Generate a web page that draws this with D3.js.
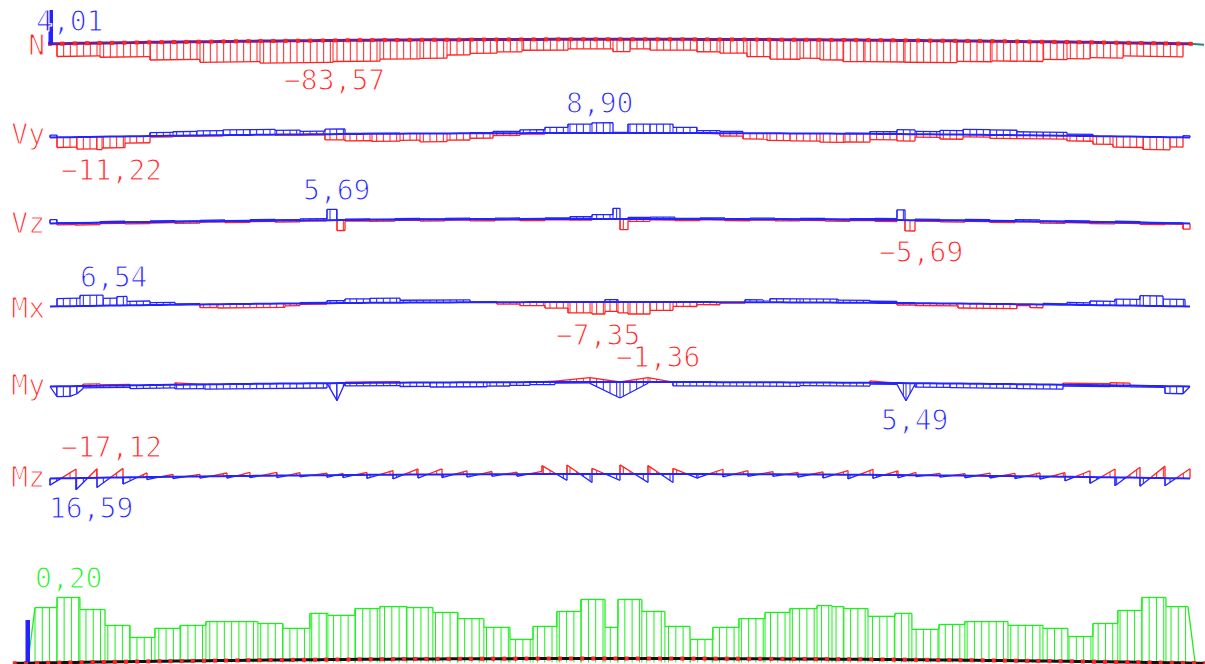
<!DOCTYPE html>
<html>
<head>
<meta charset="utf-8">
<script src="https://cdn.jsdelivr.net/npm/d3@7"></script>
<style>
  body { margin: 0; background: #fff; }
  svg { display: block; }
  text { font-family: "DejaVu Sans Mono", monospace; font-size: 28px; stroke: #fff; stroke-width: 1.1px; paint-order: fill; }
</style>
</head>
<body>
<svg width="1205" height="664"></svg>
<script>
// beam length (m) and the diagrams
const beamLength = 57;

// N : normal force (steps)
const nStations = [0.35, 2.5, 5, 7.5, 10.5, 14.15, 16.5, 18.5, 19.85, 21, 22.35, 23.6, 25.9, 28.15, 29, 30, 32.35, 33.5, 34.85, 36, 37.5, 38.5, 39.65, 40.75, 42.75, 45.35, 47.1, 49.65, 50.85, 52, 53.65, 56.65];
const nMin = [-48.6, -54, -67, -78, -83.57, -80, -72, -70, -58, -52, -47, -41, -36, -47, -36, -41, -47, -52, -65, -74, -70, -76, -82, -82, -83, -78, -75, -67, -63, -58, -50];
const nMarker = 4.01;

// Vy : shear (steps)
const vyStations = [0, 0.35, 1.35, 2.35, 2.6, 3.75, 5, 6.15, 7.35, 8.65, 10, 11.25, 12.5, 13.75, 14.75, 16.1, 17.5, 18.5, 19.85, 21, 22.15, 23.5, 24.75, 25.9, 27.1, 28.15, 28.9, 30, 31.15, 32.35, 33.5, 34.65, 35.85, 37, 38.5, 39.75, 41, 42.35, 43.25, 44.5, 45.65, 47, 48.35, 49.65, 50.85, 52.15, 53.15, 54.65, 56, 56.65, 57];
const vyMax = [2, 0, 0, 0, 0, 0, 2.9, 3.5, 4, 4.6, 4.6, 3.8, 2.6, 4.4, 0.5, 0.5, 0, 0, 0, 0.5, 1.5, 2.9, 5, 7.8, 8.9, 0.5, 7.8, 7.8, 5, 2.2, 1.5, 0, 0, 0, 0, 0.5, 2, 3.8, 2.5, 3.5, 4.5, 4.3, 3, 3, 1.5, 0, 0, 0, 0, 1.5];
const vyMin = [0, -8.8, -10.5, -11.22, -9.8, -5.8, -1, -0.5, -0.5, 0, 0, -0.5, -0.5, -5, -6, -6.5, -5.8, -7.2, -5.8, -4.3, -2, -0.9, 0, 0, 0, 0, 0, 0, 0, -0.3, -2.5, -5, -6.2, -6.5, -7.5, -7.2, -5, -6, -2.5, -4, -2, -3, -3, -3, -4.5, -7, -9.3, -11, -8.5, 0];

// Vz : shear (steps)
const vzStations = [0, 0.35, 1.25, 2.5, 3.75, 5, 6.25, 7.5, 8.75, 10, 11.25, 12.5, 13.85, 14.35, 14.75, 16, 17.25, 18.5, 19.75, 21, 22.25, 23.5, 24.75, 26, 27.1, 28.15, 28.5, 28.9, 30, 31.25, 32.5, 33.75, 35, 36.25, 37.5, 38.75, 40, 41.25, 42.35, 42.75, 43.25, 44.5, 45.75, 47, 48.25, 49.5, 50.75, 52, 53.25, 54.5, 55.75, 56.65, 57];
const vzMax = [2, 0.3, 0.2, 0.6, 0.2, 0.6, 0.3, 0.6, 0.3, 0.6, 0.4, 0.8, 5.69, 0, 0.5, 0.3, 0.6, 0.3, 0.6, 0.3, 0.6, 0.3, 0.6, 1.2, 2.3, 5.6, 0, 0.8, 1.0, 0.3, 0.6, 0.3, 0.6, 0.3, 0.6, 0.3, 0.6, 0.8, 5.4, 0, 0.6, 0.3, 0.6, 0.3, 0.8, 0.3, 0.6, 0.3, 0.6, 0.3, 0.2, 0];
const vzMin = [0, -0.8, -1.0, -0.5, -0.8, -0.5, -0.9, -0.4, -0.8, -0.4, -0.8, -0.3, 0, -5.5, -0.6, -0.8, -0.4, -0.8, -0.4, -0.8, -0.4, -0.8, -0.4, -0.6, 0, 0, -5.6, -1.2, -0.5, -0.8, -0.4, -0.8, -0.4, -0.8, -0.5, -0.8, -0.4, -0.8, 0, -5.69, -0.5, -0.8, -0.4, -0.8, -0.4, -0.9, -0.5, -0.8, -0.4, -0.8, -0.5, -3];

// Mx : torsion (steps)
const mxStations = [0, 0.35, 1.5, 2.65, 3.35, 3.85, 5, 6.25, 7.5, 8.4, 11.75, 12.5, 13.85, 14.75, 16, 17.5, 21, 22.35, 23.5, 24.75, 25.9, 27.1, 27.75, 28.4, 28.9, 30, 31.15, 32.35, 33.5, 34.75, 36, 37.5, 39.4, 41, 42.35, 43.25, 45.4, 48.35, 49, 49.65, 50.85, 52, 53.25, 54.5, 55.65, 56.75, 57];
const mxMax = [0, 4.8, 6.54, 4.5, 5.5, 2.5, 1.5, 0.5, 0, 0, 0, 0.5, 1.5, 2.5, 2.8, 1.5, 0.3, 0, 0, 0, 0, 0, 1.5, 0, 0, 0, 0, 0, 0, 1.5, 2.2, 2.2, 1.5, 1, 0.3, 0, 0, 0, 0, 0.6, 1.4, 2.5, 3.9, 6.2, 4.3, 0];
const mxMin = [0, 0, 0, 0, 0, 0, 0, 0, -2, -2.3, -1.4, -0.5, 0, 0, 0, 0, 0, -1.2, -2.2, -3.7, -6.7, -7.35, -5.8, -6.7, -7.35, -5.1, -2.7, -1.6, -0.6, 0, 0, 0, 0, 0, -1.2, -1.4, -2.7, -0.8, -2, 0, 0, 0, 0, 0, 0, 0];

// My : bending (linear segments, start / end)
const myStations = [0, 0.35, 1, 1.35, 1.65, 2.5, 4, 6.25, 7.75, 13.85, 14.35, 14.75, 17.5, 19, 21.85, 23, 24, 25.25, 27, 28.5, 29.9, 31.15, 37.5, 41, 42.35, 42.8, 43.25, 45, 48.35, 50.65, 53, 54, 55.75, 56.65, 57];
const myMaxStart = [0, 3.2, 3.2, 2.4, 0.6, 0.6, 1.0, 1.3, 1.5, 0, 5.49, 0.9, 1.2, 1.4, 1.2, 1.0, 0.8, 0.3, 0.4, 5.0, 0.1, 1.2, 1.0, 0.4, 0.4, 5.49, 1.2, 1.3, 1.4, 0.4, 0.3, 0.4, 2.3, 2.3];
const myMaxEnd = [3.2, 3.2, 2.4, 0.8, 0.6, 0.6, 1.0, 1.3, 1.5, 5.49, 0, 0.9, 1.2, 1.4, 1.2, 1.0, 0.8, 0.3, 5.0, 0.4, 0.1, 1.2, 1.0, 0.4, 5.49, 0.4, 1.2, 1.3, 1.4, 0.4, 0.3, 0.4, 2.3, 0];
const myMinStart = [0, 0, 0, 0, -0.6, -0.3, 0, -0.6, 0, 0, 0, -0.3, 0, 0, 0, 0, 0, -0.3, -1.36, 0, -1.36, 0, 0, -0.6, 0, 0, 0, 0, 0, -0.5, -0.8, 0, 0, 0];
const myMinEnd = [0, 0, 0, 0, -0.6, -0.3, 0, 0, 0, 0, 0, -0.3, 0, 0, 0, 0, -0.3, -1.36, 0, -1.36, 0, 0, 0, 0, 0, 0, 0, 0, 0, -0.5, -0.8, 0, 0, 0];

// Mz : bending (linear per element, start / end)
const mzStations = [0, 1.3, 2.35, 3.65, 4.85, 6.15, 7.5, 8.85, 10, 11.35, 12.5, 13.85, 14.65, 15.85, 17.15, 18.4, 19.6, 20.85, 22.1, 23.35, 24.6, 25.85, 27.1, 28.5, 29.9, 31.15, 32.4, 33.65, 34.9, 36.15, 37.4, 38.65, 39.9, 41.15, 42.4, 43.3, 44.5, 45.75, 47, 48.25, 49.5, 50.75, 52, 53.25, 54.5, 55.75, 57];
const mzStart = [9.5, 16.59, 14, 9.5, 3.5, 2.5, 2.5, 3, 2.5, 3, 2, 3, 3.5, 5, 6, 5, 4.5, 4, 3, 3, -12, -13, -8, -13, -12, -8, 5, 4, 3, 3, 4, 5, 6, 5, 4, 2, 2.5, 3, 3, 3.5, 4, 6, 9, 12, 12, 11];
const mzEnd = [-12.9, -12.9, -12.9, -6, -3.5, -3, -4.5, -5, -4.5, -4, -3, -2.5, -3.5, -6, -8, -8, -5, -4, -3, -4, 9, 12, 9, 12, 12, 6, -7, -5, -4, -3, -4, -6, -8, -6, -4, -3, -3, -4, -4, -5, -6, -9, -12, -15, -17.12, -14];

// utilisation (green, steps)
const utilStations = [0, 1.09, 2.22, 3.46, 4.70, 5.93, 7.17, 8.45, 11.02, 12.26, 13.59, 14.48, 15.82, 17.05, 18.39, 19.67, 20.91, 22.19, 23.48, 24.62, 25.80, 26.99, 28.18, 28.82, 30.00, 31.14, 32.38, 33.51, 34.80, 36.09, 37.32, 38.66, 39.40, 39.99, 41.18, 42.51, 43.35, 44.69, 45.97, 48.10, 49.83, 51.06, 52.30, 53.53, 54.72, 55.91, 57];
const utilVals = [0.169, 0.200, 0.163, 0.114, 0.077, 0.105, 0.114, 0.126, 0.120, 0.105, 0.151, 0.145, 0.166, 0.172, 0.169, 0.154, 0.135, 0.108, 0.071, 0.111, 0.157, 0.194, 0.108, 0.194, 0.157, 0.111, 0.071, 0.108, 0.135, 0.154, 0.166, 0.175, 0.172, 0.166, 0.142, 0.151, 0.102, 0.117, 0.126, 0.114, 0.105, 0.080, 0.120, 0.160, 0.200, 0.172];

const RED = '#ff2222', BLUE = '#2323ff', GREEN = '#1cf01c', PURPLE = '#7d1a86';

const svg = d3.select('svg');
const fmt = d3.formatLocale({ decimal: ',', thousands: '.', grouping: [3], currency: ['', ''], minus: '\u2212' }).format('.2f');

const x = d3.scaleLinear().domain([0, beamLength]).range([50, 1190]);
const xg = d3.scaleLinear().domain([0, beamLength]).range([35, 1188]);

// the beam is a shallow arch: ends sit a few pixels lower than mid-span
const arch = yc => m => yc + 4.5 * Math.pow((m - beamLength / 2) / (beamLength / 2), 2);
const bySign = v => v < 0 ? RED : BLUE;

// build outline points from segments
const segPoints = (st, a, b) => {
  const pts = [[st[0], 0]];
  a.forEach((v, i) => pts.push([st[i], v], [st[i + 1], b[i]]));
  pts.push([st[st.length - 1], 0]);
  return pts;
};

// outline, split where it crosses the axis so each side keeps its colour
const drawCurve = (g, pts, xs, base, vy, colorOf) => {
  for (let k = 0; k < pts.length - 1; k++) {
    const [m0, v0] = pts[k], [m1, v1] = pts[k + 1];
    let pieces = [[m0, v0, m1, v1]];
    if (v0 * v1 < 0) {
      const mc = m0 + (m1 - m0) * v0 / (v0 - v1);
      pieces = [[m0, v0, mc, 0], [mc, 0, m1, v1]];
    }
    pieces.forEach(([a, va, b, vb]) => {
      const vm = (va + vb) / 2;
      if (vm === 0) return;
      g.append('line')
        .attr('x1', xs(a)).attr('y1', base(a) + vy(va))
        .attr('x2', xs(b)).attr('y2', base(b) + vy(vb))
        .attr('stroke', colorOf(vm)).attr('stroke-width', 1.3);
    });
  }
};

// vertical hatching inside the diagram
const drawHatch = (g, st, a, b, xs, base, vy, step, colorOf) => {
  const ms = d3.range(st[0], st[st.length - 1], step).concat(st.slice(1, -1));
  ms.forEach(m => {
    const i = Math.max(0, Math.min(d3.bisectRight(st, m) - 1, a.length - 1));
    const t = (m - st[i]) / (st[i + 1] - st[i]);
    const v = a[i] + (b[i] - a[i]) * t;
    if (Math.abs(vy(v)) < 1.2) return;
    g.append('line')
      .attr('x1', xs(m)).attr('y1', base(m))
      .attr('x2', xs(m)).attr('y2', base(m) + vy(v))
      .attr('stroke', colorOf(v)).attr('stroke-width', 1);
  });
};

const diagram = (g, st, a, b, xs, base, vy, colorOf) => {
  drawHatch(g, st, a, b, xs, base, vy, 1 / 3, colorOf);
  drawCurve(g, segPoints(st, a, b), xs, base, vy, colorOf);
};

const baseLine = (g, base, color, w, from, to) => {
  const ms = d3.range(from, to + 0.01, 0.5);
  g.append('path')
    .attr('d', d3.line().x(m => x(m)).y(m => base(m))(ms))
    .attr('fill', 'none').attr('stroke', color).attr('stroke-width', w);
};

const label = (txt, px, py, color, anchor) => {
  svg.append('text').attr('x', px).attr('y', py).attr('fill', color)
    .attr('text-anchor', anchor || 'start').text(txt);
};

// ---- N
const gN = svg.append('g');
const baseN = arch(39.3);
const vyN = d3.scaleLinear().domain([0, -83.57]).range([0, 22]);
diagram(gN, nStations, nMin, nMin, x, baseN, vyN, () => RED);
baseLine(gN, baseN, PURPLE, 3, 0, beamLength);
gN.append('line').attr('x1', x(beamLength)).attr('y1', baseN(beamLength))
  .attr('x2', 1204).attr('y2', baseN(beamLength) + 1).attr('stroke', '#1b8a8a').attr('stroke-width', 2);
gN.selectAll('rect.node').data(d3.range(0, beamLength + 0.6, 0.62)).enter().append('rect')
  .attr('x', m => x(m) - 2).attr('y', m => baseN(m) - 2).attr('width', 4).attr('height', 4).attr('fill', RED);
gN.append('rect').attr('x', x(0) - 1.5).attr('y', 10).attr('width', 4.5).attr('height', baseN(0) - 9).attr('fill', BLUE);
label('N', 45, 55, RED, 'end');
label(fmt(nMarker), 36, 31, BLUE);
label(fmt(d3.min(nMin)), 284, 90, RED);

// ---- Vy
const gVy = svg.append('g');
const baseVy = arch(133);
const vyVy = d3.scaleLinear().domain([0, 1]).range([0, -1.15]);
diagram(gVy, vyStations, vyMin, vyMin, x, baseVy, vyVy, bySign);
diagram(gVy, vyStations, vyMax, vyMax, x, baseVy, vyVy, bySign);
baseLine(gVy, baseVy, BLUE, 2, 0, beamLength);
label('Vy', 45, 144, RED, 'end');
label(fmt(d3.min(vyMin)), 61, 180, RED);
label(fmt(d3.max(vyMax)), 566, 113, BLUE);

// ---- Vz
const gVz = svg.append('g');
const baseVz = arch(219);
const vyVz = d3.scaleLinear().domain([0, 1]).range([0, -1.9]);
diagram(gVz, vzStations, vzMin, vzMin, x, baseVz, vyVz, bySign);
diagram(gVz, vzStations, vzMax, vzMax, x, baseVz, vyVz, bySign);
baseLine(gVz, baseVz, BLUE, 2, 0, beamLength);
label('Vz', 45, 233, RED, 'end');
label(fmt(d3.max(vzMax)), 303, 200, BLUE);
label(fmt(d3.min(vzMin)), 879, 262, RED);

// ---- Mx
const gMx = svg.append('g');
const baseMx = arch(302);
const vyMx = d3.scaleLinear().domain([0, 1]).range([0, -1.63]);
diagram(gMx, mxStations, mxMin, mxMin, x, baseMx, vyMx, bySign);
diagram(gMx, mxStations, mxMax, mxMax, x, baseMx, vyMx, bySign);
baseLine(gMx, baseMx, BLUE, 2, 0, beamLength);
label('Mx', 45, 318, RED, 'end');
label(fmt(d3.max(mxMax)), 80, 287, BLUE);
label(fmt(d3.min(mxMin)), 556, 345, RED);

// ---- My (positive drawn downward)
const gMy = svg.append('g');
const baseMy = arch(382);
const vyMy = d3.scaleLinear().domain([0, 1]).range([0, 3.2]);
diagram(gMy, myStations, myMinStart, myMinEnd, x, baseMy, vyMy, bySign);
diagram(gMy, myStations, myMaxStart, myMaxEnd, x, baseMy, vyMy, bySign);
baseLine(gMy, baseMy, BLUE, 2, 0, beamLength);
label('My', 45, 395, RED, 'end');
label(fmt(d3.min(myMinStart)), 616, 367, RED);
label(fmt(d3.max(myMaxEnd)), 881, 430, BLUE);

// ---- Mz (positive drawn downward)
const gMz = svg.append('g');
const baseMz = arch(474);
const vyMz = d3.scaleLinear().domain([0, 1]).range([0, 0.7]);
diagram(gMz, mzStations, mzStart, mzEnd, x, baseMz, vyMz, bySign);
baseLine(gMz, baseMz, BLUE, 2, 0, beamLength);
label('Mz', 45, 487, RED, 'end');
label(fmt(d3.min(mzEnd)), 61, 457, RED);
label(fmt(d3.max(mzStart)), 49, 518, BLUE);

// ---- utilisation (green) with structure line below
const gU = svg.append('g');
const baseU = () => 662.5;
const vyU = d3.scaleLinear().domain([0, 0.2]).range([0, -65]);
drawHatch(gU, utilStations, utilVals, utilVals, xg, baseU, vyU, 0.36, () => GREEN);
const uPts = segPoints(utilStations, utilVals, utilVals);
uPts[0] = [-0.35, 0];
uPts[uPts.length - 1] = [beamLength + 0.35, 0];
drawCurve(gU, uPts, xg, baseU, vyU, () => GREEN);
const archU = m => 658.5 + 4.5 * Math.pow((m - beamLength / 2) / (beamLength / 2), 2);
gU.append('path')
  .attr('d', d3.line().x(m => xg(m)).y(m => archU(m))(d3.range(-1, beamLength + 1.01, 0.5)))
  .attr('fill', 'none').attr('stroke', '#111').attr('stroke-width', 3);
gU.selectAll('rect.node').data(d3.range(-1, beamLength + 1, 0.55)).enter().append('rect')
  .attr('x', m => xg(m) - 2).attr('y', m => archU(m) - 2).attr('width', 4).attr('height', 4).attr('fill', RED);
gU.append('rect').attr('x', xg(0) - 9.5).attr('y', 620).attr('width', 4.5).attr('height', 42).attr('fill', BLUE);
label(fmt(d3.max(utilVals)), 35, 588, GREEN);
</script>
</body>
</html>
